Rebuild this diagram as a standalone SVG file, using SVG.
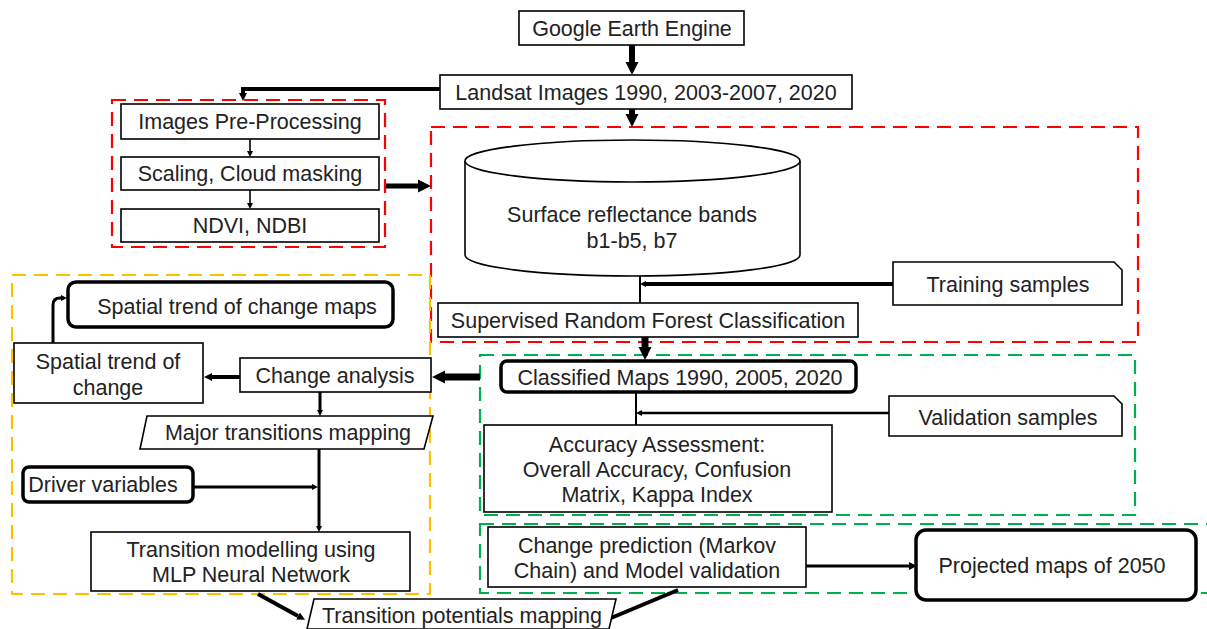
<svg xmlns="http://www.w3.org/2000/svg" width="1207" height="629" viewBox="0 0 1207 629">
<style>
text{font-family:"Liberation Sans",Arial,sans-serif;font-size:21.5px;fill:#222;text-anchor:middle}
.box{fill:#fff;stroke:#000;stroke-width:1.6}
.bold{fill:#fff;stroke:#000;stroke-width:3.5}
.dr{fill:none;stroke:#ff0000;stroke-width:2.2;stroke-dasharray:14 8}
.dg{fill:none;stroke:#00b050;stroke-width:2.2;stroke-dasharray:14 8}
.do{fill:none;stroke:#ffc000;stroke-width:2.2;stroke-dasharray:14 8}
.c{fill:none;stroke:#000}
</style>
<defs>
<marker id="ab" viewBox="0 0 10 10" markerUnits="userSpaceOnUse" markerWidth="13" markerHeight="14" refX="0" refY="5" orient="auto"><path d="M0,0L10,5L0,10z" fill="#000"/></marker>
<marker id="am" viewBox="0 0 10 10" markerUnits="userSpaceOnUse" markerWidth="8" markerHeight="9" refX="0" refY="5" orient="auto"><path d="M0,0L10,5L0,10z" fill="#000"/></marker>
<marker id="as" viewBox="0 0 10 10" markerUnits="userSpaceOnUse" markerWidth="6" markerHeight="6" refX="0" refY="5" orient="auto"><path d="M0,0L10,5L0,10z" fill="#000"/></marker>
</defs>

<g id="groups">
<rect class="dr" x="112" y="100" width="273" height="147"/>
<rect class="dr" x="431" y="127" width="707" height="215"/>
<rect class="dg" x="480" y="355" width="655" height="160"/>
<rect class="dg" x="480" y="524" width="740" height="69"/>
<rect class="do" x="12" y="275" width="418" height="319"/>
</g>

<g id="connectors">
<line class="c" x1="632" y1="45" x2="632" y2="62" stroke-width="6" marker-end="url(#ab)"/>
<path class="c" d="M440,89H243V93" stroke-width="4" marker-end="url(#am)"/>
<line class="c" x1="632" y1="109" x2="632" y2="114" stroke-width="6" marker-end="url(#ab)"/>
<line class="c" x1="250" y1="139" x2="250" y2="151" stroke-width="1.6" marker-end="url(#as)"/>
<line class="c" x1="250" y1="190" x2="250" y2="203" stroke-width="1.6" marker-end="url(#as)"/>
<line class="c" x1="386" y1="186" x2="418" y2="186" stroke-width="5" marker-end="url(#ab)"/>
<line class="c" x1="640" y1="276" x2="640" y2="303" stroke-width="2"/>
<line class="c" x1="893" y1="284" x2="646" y2="284" stroke-width="4" marker-end="url(#as)"/>
<line class="c" x1="645" y1="337" x2="645" y2="347" stroke-width="7" marker-end="url(#ab)"/>
<line class="c" x1="636" y1="392" x2="636" y2="425" stroke-width="2"/>
<line class="c" x1="889" y1="413" x2="642" y2="413" stroke-width="2.5" marker-end="url(#as)"/>
<line class="c" x1="480" y1="377" x2="445" y2="377" stroke-width="7" marker-end="url(#ab)"/>
<line class="c" x1="240" y1="377" x2="212" y2="377" stroke-width="4" marker-end="url(#am)"/>
<path class="c" d="M53,343V305Q53,298 60,298H61" stroke-width="3" marker-end="url(#as)"/>
<line class="c" x1="320" y1="392" x2="320" y2="410" stroke-width="3" marker-end="url(#as)"/>
<line class="c" x1="319" y1="449" x2="319" y2="526" stroke-width="3" marker-end="url(#as)"/>
<line class="c" x1="193" y1="487" x2="312" y2="487" stroke-width="3" marker-end="url(#as)"/>
<line class="c" x1="258" y1="594" x2="298" y2="616" stroke-width="4" marker-end="url(#am)"/>
<line class="c" x1="678" y1="590" x2="611" y2="618" stroke-width="4"/>
<line class="c" x1="806" y1="566" x2="909" y2="566" stroke-width="3" marker-end="url(#am)"/>
</g>

<g id="gee"><rect class="box" x="519" y="11" width="225" height="34"/><text x="632" y="36">Google Earth Engine</text></g>
<g id="landsat"><rect class="box" x="440" y="75" width="412" height="34"/><text x="646" y="100">Landsat Images 1990, 2003-2007, 2020</text></g>
<g id="preproc"><rect class="box" x="121" y="104" width="258" height="35"/><text x="250" y="129">Images Pre-Processing</text></g>
<g id="scaling"><rect class="box" x="121" y="157" width="258" height="33"/><text x="250" y="181">Scaling, Cloud masking</text></g>
<g id="ndvi"><rect class="box" x="121" y="209" width="258" height="33"/><text x="250" y="233">NDVI, NDBI</text></g>

<g id="cylinder">
<path class="box" d="M465,161V255A167.5,21 0 0 0 800,255V161"/>
<ellipse class="box" cx="632.5" cy="161" rx="167.5" ry="21"/>
<text x="632" y="222">Surface reflectance bands</text>
<text x="632" y="248">b1-b5, b7</text>
</g>
<g id="training"><path class="box" d="M893,262H1114L1122,270V305H893Z" stroke-width="2.2"/><text x="1008" y="292">Training samples</text></g>
<g id="supervised"><rect class="box" x="438" y="303" width="420" height="34" stroke-width="1.3"/><text x="648" y="328">Supervised Random Forest Classification</text></g>

<g id="classified"><rect class="bold" x="501" y="361" width="355" height="31" rx="6"/><text x="680" y="385">Classified Maps 1990, 2005, 2020</text></g>
<g id="validation"><path class="box" d="M889,396H1114L1122,404V436H889Z" stroke-width="2.2"/><text x="1008" y="425">Validation samples</text></g>
<g id="accuracy"><rect class="box" x="484" y="425" width="348" height="87" stroke-width="1.3"/>
<text x="657" y="452">Accuracy Assessment:</text>
<text x="657" y="477">Overall Accuracy, Confusion</text>
<text x="657" y="502">Matrix, Kappa Index</text></g>

<g id="stcmaps"><rect class="bold" x="68" y="282" width="325" height="45" rx="8"/><text x="237" y="314">Spatial trend of change maps</text></g>
<g id="stc"><rect class="box" x="14" y="343" width="189" height="60" stroke-width="1.3"/><text x="108" y="369">Spatial trend of</text><text x="108" y="395">change</text></g>
<g id="change"><rect class="box" x="240" y="358" width="191" height="34" stroke-width="1.3"/><text x="335" y="383">Change analysis</text></g>
<g id="major"><path class="box" d="M147,416H433L424,449H140Z" stroke-width="2.2"/><text x="288" y="440">Major transitions mapping</text></g>
<g id="driver"><rect class="bold" x="23" y="467" width="170" height="35" rx="6"/><text x="103" y="492">Driver variables</text></g>
<g id="mlp"><rect class="box" x="91" y="532" width="319" height="59" stroke-width="1.3"/><text x="251" y="557">Transition modelling using</text><text x="251" y="582">MLP Neural Network</text></g>
<g id="potentials"><path class="box" d="M314,599H616L609,629H307Z" stroke-width="2.2"/><text x="462" y="623">Transition potentials mapping</text></g>

<g id="markov"><rect class="box" x="488" y="527" width="318" height="60" stroke-width="1.3"/><text x="647" y="553">Change prediction (Markov</text><text x="647" y="578">Chain) and Model validation</text></g>
<g id="projected"><rect class="bold" x="916" y="530" width="280" height="70" rx="10"/><text x="1052" y="573">Projected maps of 2050</text></g>
</svg>
